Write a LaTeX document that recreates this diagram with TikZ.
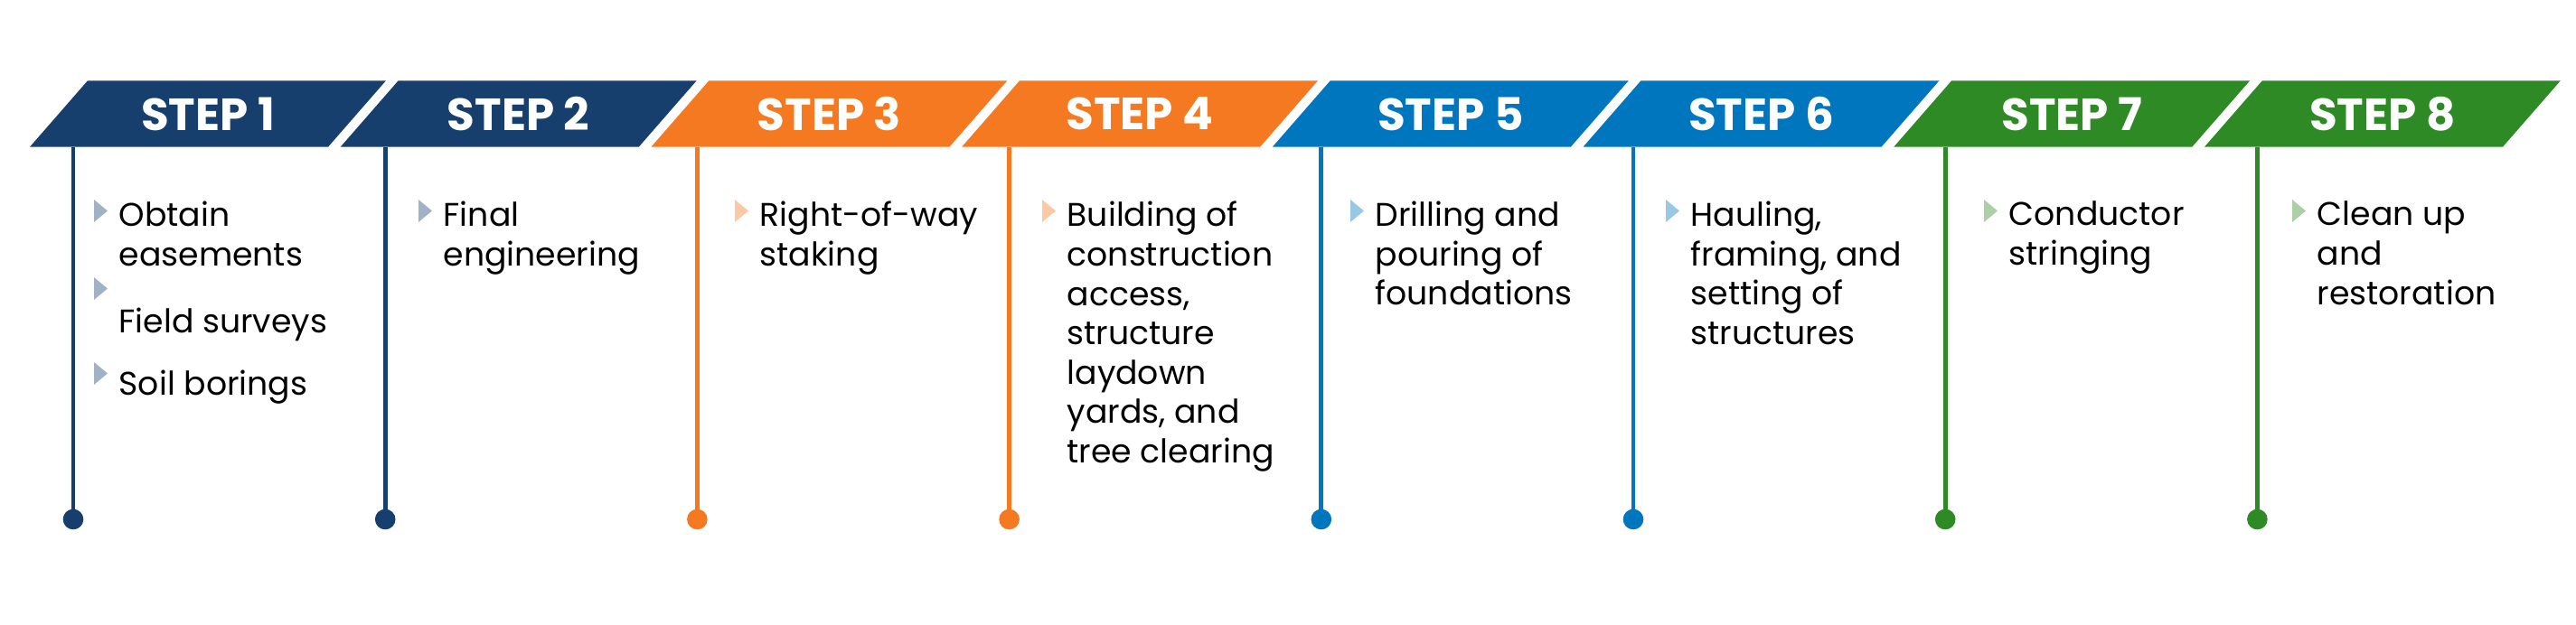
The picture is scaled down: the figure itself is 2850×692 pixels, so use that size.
\documentclass[tikz,border=0pt]{standalone}
\usepackage{fontspec}
\setmainfont{Poppins}
\usetikzlibrary{positioning}

\definecolor{stepnavy}{HTML}{173F6D}
\definecolor{steporange}{HTML}{F47920}
\definecolor{stepblue}{HTML}{0076BF}
\definecolor{stepgreen}{HTML}{2E8A24}

\begin{document}
\begin{tikzpicture}[
    x=0.01cm, y=-0.01cm,
    font=\fontsize{10.3}{12.4}\selectfont,
    % Stili
    banner/.style={fill=#1},
    steplabel/.style={text=white, inner sep=0pt, font=\fontsize{14.2}{16}\selectfont\bfseries},
    stem/.style={draw=#1, line width=1.35pt},
    pin/.style={fill=#1},
    tick/.style={fill=#1!40},
    desc/.style={anchor=north west, inner sep=0pt, align=left, execute at begin node=\strut}
  ]
  \useasboundingbox (0,0) rectangle (2850,692);

  % Colonne
  \foreach \i/\col/\tx/\body in {
      1/stepnavy/131/{Obtain\\easements},
      2/stepnavy/490/{Final\\engineering},
      3/steporange/840/{Right-of-way\\staking},
      4/steporange/1180/{Building of\\construction\\access,\\structure\\laydown\\yards, and\\tree clearing},
      5/stepblue/1521/{Drilling and\\pouring of\\foundations},
      6/stepblue/1870/{Hauling,\\framing, and\\setting of\\structures},
      7/stepgreen/2222/{Conductor\\stringing},
      8/stepgreen/2563/{Clean up\\and\\restoration}} {
    \pgfmathsetmacro\bx{33+343.7*(\i-1)}
    \pgfmathsetmacro\lx{81+345.2*(\i-1)}
    \fill[banner=\col] (\bx,162.7) -- ++(330,0) -- ++(64,-73.4) -- ++(-330,0) -- cycle;
    \node[steplabel] (step\i) at (\bx+197,126) {STEP \i};
    \coordinate (top\i) at (\lx,162.7);
    \coordinate (end\i) at (\lx,575);
    \draw[stem=\col] (top\i) -- (end\i);
    \fill[pin=\col] (end\i) circle (0.113cm);
    \fill[tick=\col] (\tx-27,221) -- ++(15,12.5) -- ++(-15,12.5) -- cycle;
    \node[desc] (desc\i) at (\tx,222.5) {\body};
  }

  % Step 1: altri punti
  \fill[tick=stepnavy] (104,307) -- ++(15,12.5) -- ++(-15,12.5) -- cycle;
  \node[desc] (field) at (131,337) {Field surveys};
  \fill[tick=stepnavy] (104,401) -- ++(15,12.5) -- ++(-15,12.5) -- cycle;
  \node[desc] (soil) at (131,406) {Soil borings};

\end{tikzpicture}
\end{document}
